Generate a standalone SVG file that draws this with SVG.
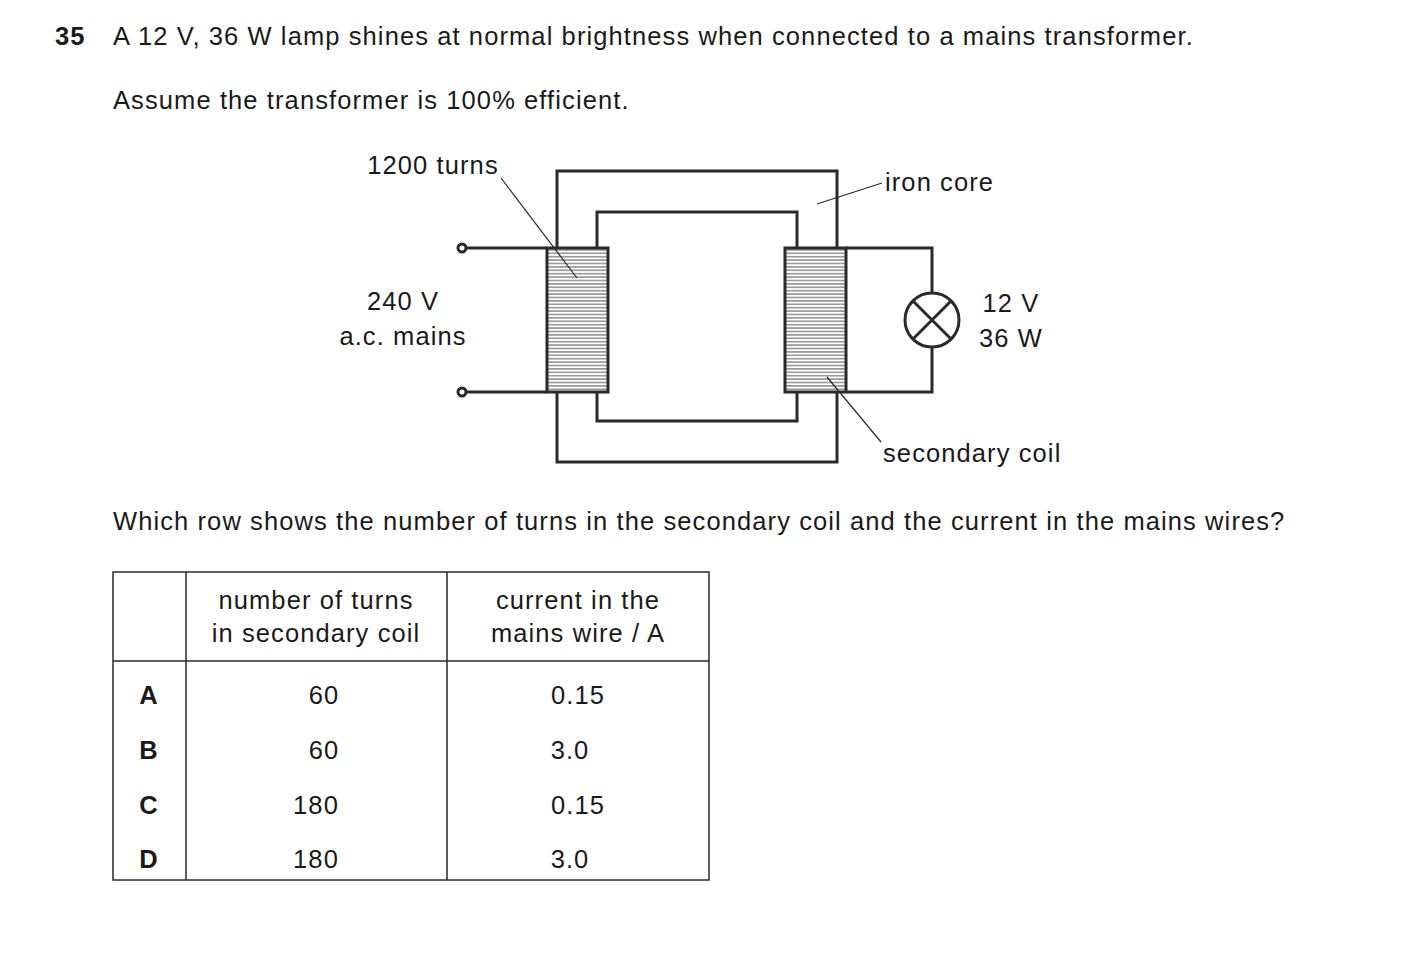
<svg xmlns="http://www.w3.org/2000/svg" width="1403" height="973" viewBox="0 0 1403 973">
<style>
text{font-family:"Liberation Sans",Arial,sans-serif;font-size:25.5px;letter-spacing:1.1px;fill:#1a1a1a}
.b{font-weight:bold}
.m{text-anchor:middle}
.w{fill:none;stroke:#2a2a2a;stroke-width:3}
.c{fill:url(#coil);stroke:#2a2a2a;stroke-width:3}
.t{fill:none;stroke:#2a2a2a;stroke-width:1.2}
.g{stroke:#2a2a2a;stroke-width:1.5;fill:none}
</style>
<defs>
<pattern id="coil" width="10" height="3.4" patternUnits="userSpaceOnUse">
<rect width="10" height="3.4" fill="#fff"/><line x1="0" y1="1.7" x2="10" y2="1.7" stroke="#555" stroke-width="1"/>
</pattern>
</defs>
<rect width="1403" height="973" fill="#fff"/>
<text x="55" y="45" class="b">35</text>
<text x="113" y="45">A 12 V, 36 W lamp shines at normal brightness when connected to a mains transformer.</text>
<text x="113" y="109">Assume the transformer is 100% efficient.</text>
<g id="core">
<path class="w" d="M557,248 V171 H837 V248 M557,392 V462 H837 V392 M597,248 V212 H797 V248 M597,392 V421 H797 V392"/>
</g>
<g id="primary">
<rect x="547" y="248" width="61" height="144" class="c"/>
</g>
<g id="secondary">
<rect x="785" y="248" width="61" height="144" class="c"/>
</g>
<g id="terminals">
<circle cx="462" cy="248" r="4" class="w" stroke-width="2.5"/>
<circle cx="462" cy="392" r="4" class="w" stroke-width="2.5"/>
</g>
<g id="lamp">
<circle cx="932" cy="320" r="27" class="w"/>
<path class="w" d="M913,301 L951,339 M951,301 L913,339"/>
</g>
<g id="connectors">
<path class="w" d="M466,248 H547 M466,392 H547 M846,248 H932 V293 M932,347 V392 H846"/>
<path class="t" d="M501,178 L577,278 M817,204 L882,183 M827,377 L881,442"/>
</g>
<g id="labels">
<text x="433" y="174" class="m">1200 turns</text>
<text x="885" y="191">iron core</text>
<text x="403" y="310" class="m">240 V</text>
<text x="403" y="345" class="m">a.c. mains</text>
<text x="1011" y="312" class="m">12 V</text>
<text x="1011" y="347" class="m">36 W</text>
<text x="883" y="462">secondary coil</text>
</g>
<text x="113" y="530">Which row shows the number of turns in the secondary coil and the current in the mains wires?</text>
<g id="table">
<rect x="113" y="572" width="596" height="308" class="g"/>
<path class="g" d="M186,572 V880 M447,572 V880 M113,661 H709"/>
<text x="316" y="609" class="m">number of turns</text>
<text x="316" y="642" class="m">in secondary coil</text>
<text x="578" y="609" class="m">current in the</text>
<text x="578" y="642" class="m">mains wire / A</text>
<text x="149" y="704" class="m b">A</text>
<text x="149" y="759" class="m b">B</text>
<text x="149" y="814" class="m b">C</text>
<text x="149" y="868" class="m b">D</text>
<text x="324" y="704" class="m">60</text>
<text x="324" y="759" class="m">60</text>
<text x="316" y="814" class="m">180</text>
<text x="316" y="868" class="m">180</text>
<text x="578" y="704" class="m">0.15</text>
<text x="570" y="759" class="m">3.0</text>
<text x="578" y="814" class="m">0.15</text>
<text x="570" y="868" class="m">3.0</text>
</g>
</svg>
